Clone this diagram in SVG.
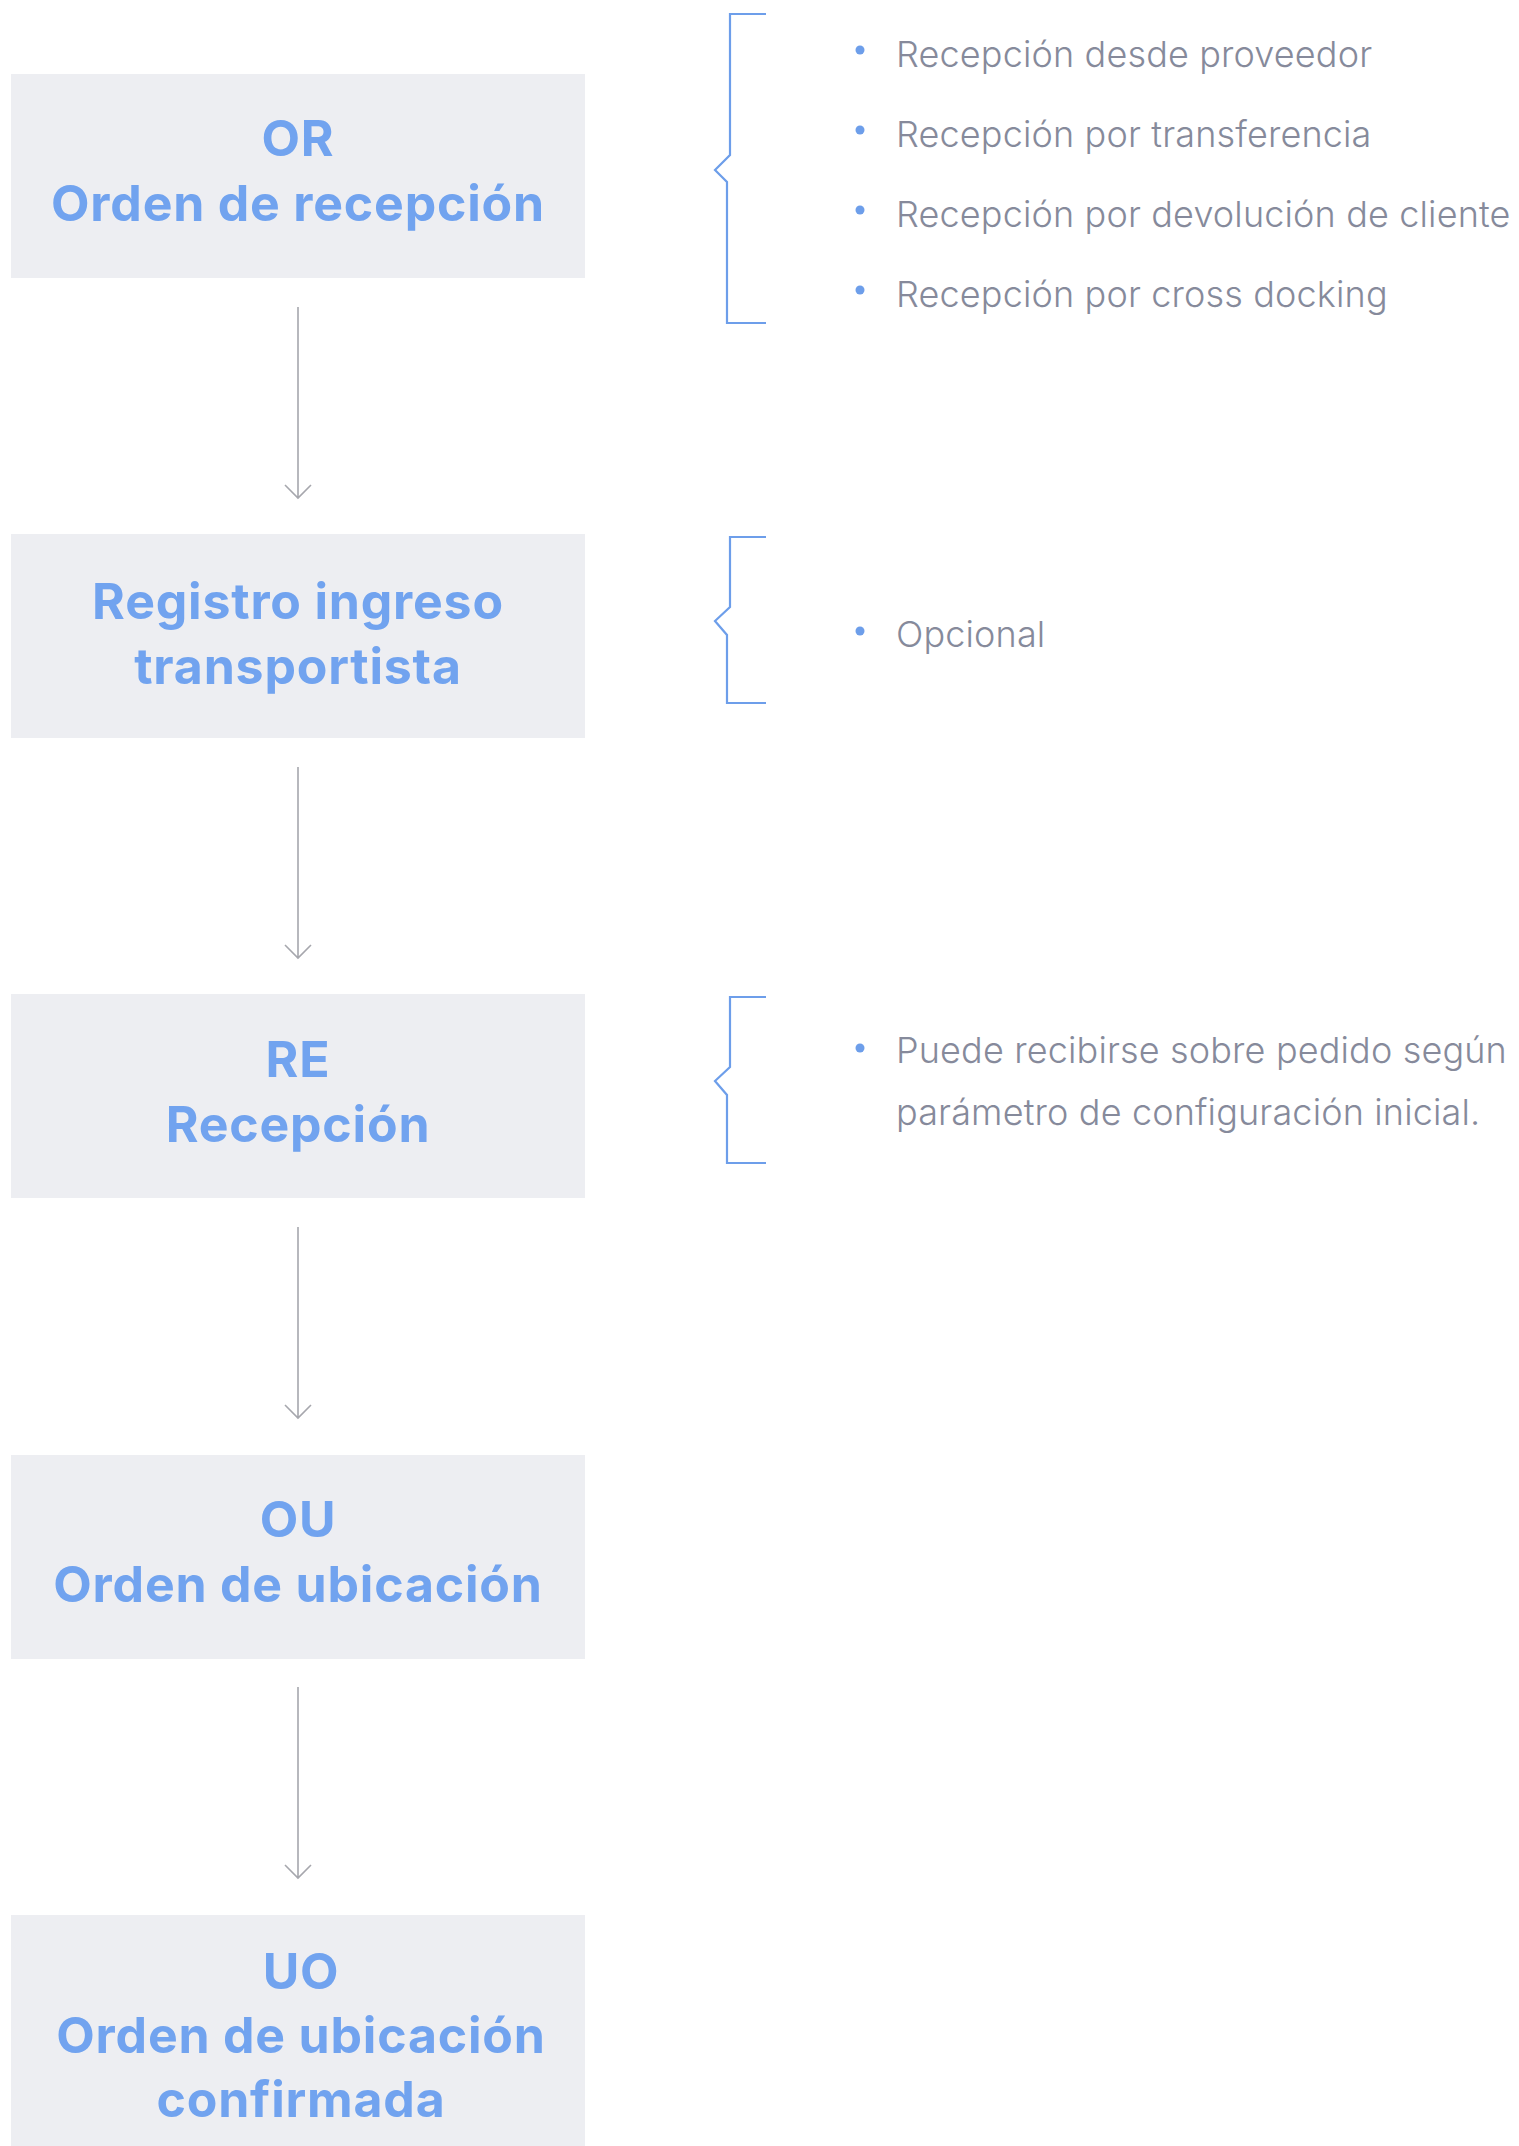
<svg xmlns="http://www.w3.org/2000/svg" width="1519" height="2146" viewBox="0 0 1519 2146">
<style>
.box{fill:#edeef2}
.t{font-family:Inter,"Noto Sans",sans-serif;font-weight:700;font-size:50px;letter-spacing:0.8px;fill:#71a3ef;text-anchor:middle}
.b{font-family:Inter,"Noto Sans",sans-serif;font-weight:300;font-size:36px;letter-spacing:0.15px;fill:#868a9b}
.dot{fill:#6d9eea}
.br{fill:none;stroke:#6d9eea;stroke-width:2.2}
.c{fill:none;stroke:#a6a7ad;stroke-width:1.6}
</style>
<rect width="1519" height="2146" fill="#ffffff"/>
<g id="node-or">
<rect class="box" x="11" y="74" width="574" height="204"/>
<text class="t" x="298" y="156">OR</text>
<text class="t" x="298" y="221">Orden de recepción</text>
</g>
<g id="node-registro">
<rect class="box" x="11" y="534" width="574" height="204"/>
<text class="t" x="298" y="619">Registro ingreso</text>
<text class="t" x="298" y="684">transportista</text>
</g>
<g id="node-re">
<rect class="box" x="11" y="994" width="574" height="204"/>
<text class="t" x="298" y="1077">RE</text>
<text class="t" x="298" y="1142">Recepción</text>
</g>
<g id="node-ou">
<rect class="box" x="11" y="1455" width="574" height="204"/>
<text class="t" x="298" y="1537">OU</text>
<text class="t" x="298" y="1602">Orden de ubicación</text>
</g>
<g id="node-uo">
<rect class="box" x="11" y="1915" width="574" height="240"/>
<text class="t" x="301" y="1989">UO</text>
<text class="t" x="301" y="2053">Orden de ubicación</text>
<text class="t" x="301" y="2117">confirmada</text>
</g>
<g id="connectors">
<path class="c" d="M298 307V498M285 485L298 498L311 485"/>
<path class="c" d="M298 767V958M285 945L298 958L311 945"/>
<path class="c" d="M298 1227V1418M285 1405L298 1418L311 1405"/>
<path class="c" d="M298 1687V1878M285 1865L298 1878L311 1865"/>
</g>
<g id="note-or">
<path class="br" d="M766 14H730V155L715 170L727 182V323H766"/>
<circle class="dot" cx="860" cy="50" r="4.5"/>
<text class="b" x="896" y="67">Recepción desde proveedor</text>
<circle class="dot" cx="860" cy="130" r="4.5"/>
<text class="b" x="896" y="147">Recepción por transferencia</text>
<circle class="dot" cx="860" cy="210" r="4.5"/>
<text class="b" x="896" y="227">Recepción por devolución de cliente</text>
<circle class="dot" cx="860" cy="290" r="4.5"/>
<text class="b" x="896" y="307">Recepción por cross docking</text>
</g>
<g id="note-registro">
<path class="br" d="M766 537H730V607L715 621L727 635V703H766"/>
<circle class="dot" cx="860" cy="631" r="4.5"/>
<text class="b" x="896" y="647">Opcional</text>
</g>
<g id="note-re">
<path class="br" d="M766 997H730V1067L715 1081L727 1095V1163H766"/>
<circle class="dot" cx="860" cy="1048" r="4.5"/>
<text class="b" x="896" y="1063">Puede recibirse sobre pedido según</text>
<text class="b" x="896" y="1125">parámetro de configuración inicial.</text>
</g>
</svg>
